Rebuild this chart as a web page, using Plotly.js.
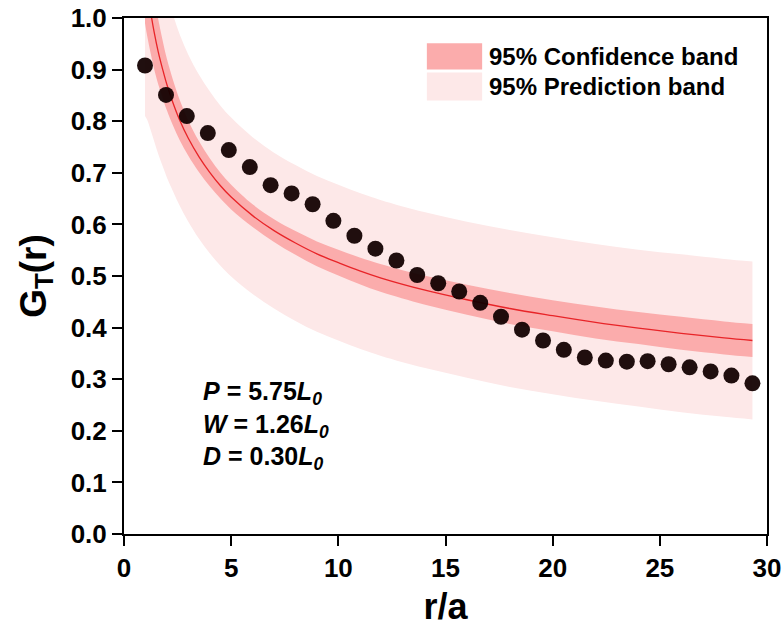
<!DOCTYPE html>
<html>
<head>
<meta charset="utf-8">
<script src="https://cdn.plot.ly/plotly-3.0.1.min.js"></script>
<style>
  html, body { margin: 0; padding: 0; background: #fff; }
  #chart { width: 783px; height: 634px; }
</style>
</head>
<body>
<div id="chart"></div>
<script>
// Measured correlation G_T(r) versus normalised distance r/a
var rA = [0.98, 1.96, 2.93, 3.91, 4.89, 5.87, 6.84, 7.82, 8.80, 9.77,
          10.75, 11.73, 12.71, 13.68, 14.66, 15.64, 16.62, 17.59, 18.57, 19.55,
          20.52, 21.50, 22.48, 23.46, 24.43, 25.41, 26.39, 27.37, 28.34, 29.32];
var gT = [0.908, 0.851, 0.810, 0.777, 0.744, 0.711, 0.676, 0.660, 0.639, 0.607,
          0.578, 0.553, 0.530, 0.502, 0.486, 0.470, 0.448, 0.421, 0.396, 0.375,
          0.357, 0.342, 0.336, 0.334, 0.335, 0.329, 0.323, 0.315, 0.307, 0.292];

// Fitted curve and the half-widths of its 95% bands
var fitX = [0.98, 1.1, 1.25, 1.4, 1.6, 1.8, 2.0, 2.3, 2.6, 3.0,
            3.5, 4.0, 4.5, 5.0, 6.0, 7.0, 8.0, 9.0, 10.0, 11.0,
            12.0, 14.0, 16.0, 18.0, 20.0, 22.0, 24.0, 26.0, 28.0, 29.32];
var fitY = [1.090, 1.051, 1.010, 0.974, 0.934, 0.901, 0.871, 0.834, 0.802, 0.767,
            0.731, 0.701, 0.675, 0.653, 0.617, 0.588, 0.564, 0.543, 0.526, 0.510,
            0.496, 0.473, 0.454, 0.437, 0.423, 0.410, 0.399, 0.389, 0.380, 0.375];
var confHalf = [0.100, 0.090, 0.080, 0.072, 0.063, 0.056, 0.050, 0.044, 0.039, 0.034,
                0.030, 0.027, 0.025, 0.024, 0.022, 0.022, 0.023, 0.024, 0.025, 0.026,
                0.027, 0.028, 0.029, 0.030, 0.030, 0.031, 0.031, 0.032, 0.032, 0.032];
var predHalf = [0.280, 0.250, 0.228, 0.212, 0.198, 0.188, 0.180, 0.171, 0.166, 0.162,
                0.159, 0.157, 0.155, 0.154, 0.152, 0.151, 0.151, 0.151, 0.151, 0.151,
                0.151, 0.151, 0.151, 0.152, 0.152, 0.152, 0.152, 0.153, 0.153, 0.153];

var bandNames = ['95% Confidence band', '95% Prediction band'];
var paramLines = [
  '<i>P</i> = 5.75<i>L</i><sub><i>0</i></sub>',
  '<i>W</i> = 1.26<i>L</i><sub><i>0</i></sub>',
  '<i>D</i> = 0.30<i>L</i><sub><i>0</i></sub>'
];

var confColor = 'rgb(251,172,172)';
var predColor = 'rgb(253,232,232)';
var lineColor = 'rgb(232,36,40)';
var FONT = 'Liberation Sans, Arial, Helvetica, sans-serif';

function offset(base, half, sign) {
  return base.map(function (v, i) { return v + sign * half[i]; });
}

var traces = [
  { x: fitX, y: offset(fitY, predHalf, -1), mode: 'lines', line: { width: 0, shape: 'spline' },
    hoverinfo: 'skip', showlegend: false },
  { x: fitX, y: offset(fitY, predHalf, 1), mode: 'lines', line: { width: 0, shape: 'spline' },
    fill: 'tonexty', fillcolor: predColor, hoverinfo: 'skip', showlegend: false },
  { x: fitX, y: offset(fitY, confHalf, -1), mode: 'lines', line: { width: 0, shape: 'spline' },
    hoverinfo: 'skip', showlegend: false },
  { x: fitX, y: offset(fitY, confHalf, 1), mode: 'lines', line: { width: 0, shape: 'spline' },
    fill: 'tonexty', fillcolor: confColor, hoverinfo: 'skip', showlegend: false },
  { x: fitX, y: fitY, mode: 'lines', line: { color: lineColor, width: 1.3, shape: 'spline' },
    showlegend: false },
  { x: rA, y: gT, mode: 'markers',
    marker: { size: 16, color: 'rgb(18,0,0)', opacity: 0.94, line: { width: 0 } },
    showlegend: false }
];

// Hand-built legend: swatches in paper coordinates
var shapes = [
  { type: 'rect', xref: 'paper', yref: 'paper', x0: 0.471, x1: 0.557, y0: 0.900, y1: 0.951,
    fillcolor: confColor, line: { width: 0 } },
  { type: 'rect', xref: 'paper', yref: 'paper', x0: 0.471, x1: 0.557, y0: 0.840, y1: 0.8946,
    fillcolor: predColor, line: { width: 0 } }
];

var annotations = [
  { xref: 'paper', yref: 'paper', x: 0.564, y: 0.9255, xanchor: 'left', yanchor: 'middle',
    text: bandNames[0], showarrow: false, font: { family: FONT, size: 24, color: '#000', weight: 700 } },
  { xref: 'paper', yref: 'paper', x: 0.564, y: 0.8675, xanchor: 'left', yanchor: 'middle',
    text: bandNames[1], showarrow: false, font: { family: FONT, size: 24, color: '#000', weight: 700 } },
  // Geometry parameters, one block of three lines
  { xref: 'x', yref: 'y', x: 3.6, y: 0.210, xanchor: 'left', yanchor: 'middle', align: 'left',
    text: paramLines.join('<br>'), showarrow: false,
    font: { family: FONT, size: 25, color: '#000', weight: 700 } }
];

var axisCommon = {
  showgrid: false, zeroline: false, showline: true, linecolor: '#000', linewidth: 2,
  mirror: true, ticks: 'outside', ticklen: 10, tickwidth: 2, tickcolor: '#000',
  tickfont: { family: FONT, size: 26, color: '#000', weight: 700 }
};

var layout = {
  width: 783, height: 634,
  margin: { l: 124, r: 16, t: 18, b: 100 },
  paper_bgcolor: '#fff', plot_bgcolor: '#fff',
  showlegend: false,
  xaxis: Object.assign({}, axisCommon, {
    range: [0, 30], tickvals: [0, 5, 10, 15, 20, 25, 30], ticktext: ['0', '5', '10', '15', '20', '25', '30'],
    title: { text: 'r/a', standoff: 12, font: { family: FONT, size: 36, color: '#000', weight: 700 } }
  }),
  yaxis: Object.assign({}, axisCommon, {
    range: [0, 1], tickvals: [0, 0.1, 0.2, 0.3, 0.4, 0.5, 0.6, 0.7, 0.8, 0.9, 1.0],
    ticktext: ['0.0', '0.1', '0.2', '0.3', '0.4', '0.5', '0.6', '0.7', '0.8', '0.9', '1.0'],
    title: { text: 'G<sub>T</sub>(r)', standoff: 13, font: { family: FONT, size: 37, color: '#000', weight: 700 } }
  }),
  shapes: shapes,
  annotations: annotations
};

Plotly.newPlot('chart', traces, layout, { staticPlot: true, displayModeBar: false });
</script>
</body>
</html>
